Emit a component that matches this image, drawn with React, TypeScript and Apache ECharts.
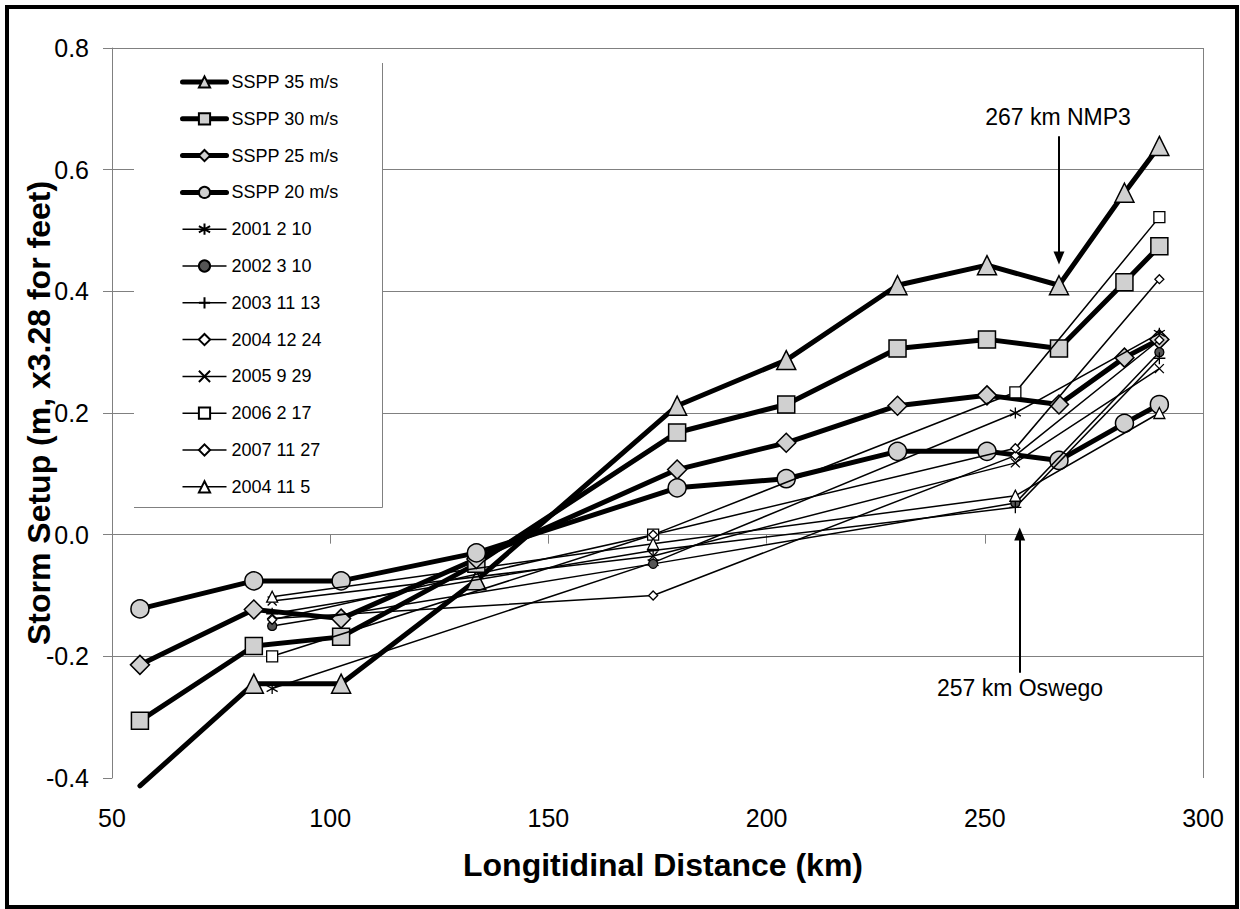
import React, { useEffect, useRef } from "react";
import * as echarts from "echarts";

const FONT = "'Liberation Sans', Arial, Helvetica, sans-serif";

// Distances (km) of SSPP model points and of observation stations
const ssppDistance = [56.4, 82.5, 102.5, 133.5, 179.5, 204.5, 230, 250.5, 267, 282, 290];
const obsDistance = [86.7, 174, 257, 290];

// SSPP model setups (m)
const sspp35 = [-0.413, -0.245, -0.245, -0.075, 0.212, 0.287, 0.41, 0.443, 0.41, 0.562, 0.639];
const sspp30 = [-0.306, -0.183, -0.168, -0.048, 0.168, 0.214, 0.306, 0.321, 0.306, 0.415, 0.474];
const sspp25 = [-0.214, -0.123, -0.138, -0.04, 0.107, 0.151, 0.212, 0.229, 0.214, 0.291, 0.321];
const sspp20 = [-0.122, -0.076, -0.076, -0.03, 0.077, 0.092, 0.137, 0.137, 0.122, 0.183, 0.214];

// Observed storm setups (m)
const obs2001_2_10 = [-0.253, -0.046, 0.2, 0.331];
const obs2002_3_10 = [-0.15, -0.048, 0.052, 0.3];
const obs2003_11_13 = [-0.13, -0.026, 0.045, 0.29];
const obs2004_12_24 = [-0.138, -0.1, 0.13, 0.32];
const obs2005_9_29 = [-0.109, -0.035, 0.118, 0.273];
const obs2006_2_17 = [-0.2, 0.0, 0.234, 0.522];
const obs2007_11_27 = [-0.14, 0.0, 0.142, 0.42];
const obs2004_11_5 = [-0.102, -0.015, 0.064, 0.2];

const seriesNames = [
  "SSPP 35 m/s",
  "SSPP 30 m/s",
  "SSPP 25 m/s",
  "SSPP 20 m/s",
  "2001 2 10",
  "2002 3 10",
  "2003 11 13",
  "2004 12 24",
  "2005 9 29",
  "2006 2 17",
  "2007 11 27",
  "2004 11 5",
];

// Annotations
const nmp3Arrow = { x: 267, yFrom: 0.655, yTo: 0.455 };
const oswegoArrow = { x: 258, yFrom: -0.227, yTo: 0.001 };

const ASTERISK = "path://M5,0L5,10M0,2.2L10,7.8M0,7.8L10,2.2";
const PLUS = "path://M5,0L5,10M0,5L10,5";
const CROSS = "path://M0,0L10,10M0,10L10,0";

const STIPPLE = "#d0d0d0";

function thickSeries(name: string, ys: number[], symbol: string, size: number, hideFirst = false) {
  return {
    name,
    type: "line",
    clip: false,
    data: ssppDistance.map((x, i) =>
      hideFirst && i === 0 ? { value: [x, ys[i]], symbol: "none" } : [x, ys[i]]
    ),
    symbol,
    symbolSize: size,
    showAllSymbol: true,
    lineStyle: { color: "#000", width: 5, cap: "round", join: "round" },
    itemStyle: { color: STIPPLE, borderColor: "#000", borderWidth: 1.5 },
    emphasis: { disabled: true },
    z: 2,
  };
}

function thinSeries(name: string, ys: number[], symbol: string, size: number, fill = "#fff") {
  return {
    name,
    type: "line",
    clip: false,
    data: obsDistance.map((x, i) => [x, ys[i]]),
    symbol,
    symbolSize: size,
    showAllSymbol: true,
    lineStyle: { color: "#000", width: 1.5 },
    itemStyle: { color: fill, borderColor: "#000", borderWidth: 1.3 },
    emphasis: { disabled: true },
    z: 3,
  };
}

export default function App() {
  const ref = useRef<HTMLDivElement>(null);

  useEffect(() => {
    if (!ref.current) return;
    const chart = echarts.init(ref.current, null, { renderer: "svg" });

    const gray = "#808080";
    const legendData = seriesNames.map((name, i) =>
      i < 4
        ? { name, lineStyle: { width: 5, color: "#000" } }
        : { name, lineStyle: { width: 1.5, color: "#000" } }
    );
    const option: any = {
      animation: false,
      backgroundColor: "#fff",
      grid: { left: 112, right: 37, top: 48, bottom: 131, containLabel: false },
      xAxis: {
        type: "value",
        min: 50,
        max: 300,
        interval: 50,
        axisLine: { show: false },
        axisTick: { show: true, length: 9, lineStyle: { color: gray, width: 1 } },
        axisLabel: { fontSize: 25, fontFamily: FONT, color: "#000", margin: 27 },
        splitLine: {
          show: true,
          lineStyle: {
            color: ["rgba(0,0,0,0)", "rgba(0,0,0,0)", "rgba(0,0,0,0)", "rgba(0,0,0,0)", "rgba(0,0,0,0)", gray],
            width: 1,
          },
        },
      },
      yAxis: {
        type: "value",
        min: -0.4,
        max: 0.8,
        interval: 0.2,
        axisLine: { show: true, lineStyle: { color: gray, width: 1 } },
        axisTick: { show: true, length: 9, lineStyle: { color: gray, width: 1 } },
        axisLabel: {
          fontSize: 25,
          fontFamily: FONT,
          color: "#000",
          margin: 23,
          formatter: (v: number) => (Math.round(v * 10) / 10).toFixed(1),
        },
        splitLine: {
          show: true,
          lineStyle: {
            color: ["rgba(0,0,0,0)", gray, gray, gray, gray, gray, gray],
            width: 1,
          },
        },
      },
      legend: {
        orient: "vertical",
        left: 180,
        top: 73,
        padding: 0,
        itemWidth: 44,
        itemHeight: 14,
        itemGap: 18.8,
        selectedMode: false,
        data: legendData,
        textStyle: { fontSize: 18, lineHeight: 18, fontFamily: FONT, color: "#000" },
        z: 6,
      },
      graphic: [
        {
          type: "rect",
          z: 3,
          shape: { x: 134, y: 63, width: 248, height: 444 },
          style: { fill: "#fff" },
        },
        {
          type: "line",
          z: 5,
          shape: { x1: 382.5, y1: 63, x2: 382.5, y2: 507.5 },
          style: { stroke: gray, lineWidth: 1 },
        },
        {
          type: "line",
          z: 5,
          shape: { x1: 134, y1: 507.5, x2: 382.5, y2: 507.5 },
          style: { stroke: gray, lineWidth: 1 },
        },
        {
          type: "text",
          z: 5,
          x: 39,
          y: 413,
          rotation: Math.PI / 2,
          style: {
            text: "Storm Setup (m, x3.28 for feet)",
            fontSize: 32,
            fontWeight: "bold",
            fontFamily: FONT,
            fill: "#000",
            align: "center",
            verticalAlign: "middle",
          },
        },
        {
          type: "text",
          z: 5,
          x: 663,
          y: 865,
          style: {
            text: "Longitidinal Distance (km)",
            fontSize: 32,
            fontWeight: "bold",
            fontFamily: FONT,
            fill: "#000",
            align: "center",
            verticalAlign: "middle",
          },
        },
        {
          type: "text",
          z: 5,
          x: 1058,
          y: 117,
          style: {
            text: "267 km NMP3",
            fontSize: 23,
            fontFamily: FONT,
            fill: "#000",
            align: "center",
            verticalAlign: "middle",
          },
        },
        {
          type: "text",
          z: 5,
          x: 1020,
          y: 688,
          style: {
            text: "257 km Oswego",
            fontSize: 23,
            fontFamily: FONT,
            fill: "#000",
            align: "center",
            verticalAlign: "middle",
          },
        },
        {
          type: "rect",
          z: 20,
          silent: true,
          shape: { x: 7, y: 7, width: 1230, height: 900 },
          style: { fill: "none", stroke: "#000", lineWidth: 4 },
        },
      ],
      series: [
        thickSeries(seriesNames[0], sspp35, "triangle", 19, true),
        thickSeries(seriesNames[1], sspp30, "rect", 17),
        thickSeries(seriesNames[2], sspp25, "diamond", 19),
        thickSeries(seriesNames[3], sspp20, "circle", 18),
        thinSeries(seriesNames[4], obs2001_2_10, ASTERISK, 11),
        thinSeries(seriesNames[5], obs2002_3_10, "circle", 9, "#555"),
        thinSeries(seriesNames[6], obs2003_11_13, PLUS, 12),
        thinSeries(seriesNames[7], obs2004_12_24, "diamond", 9),
        thinSeries(seriesNames[8], obs2005_9_29, CROSS, 9),
        thinSeries(seriesNames[9], obs2006_2_17, "rect", 11),
        thinSeries(seriesNames[10], obs2007_11_27, "diamond", 9),
        thinSeries(seriesNames[11], obs2004_11_5, "triangle", 11),
        {
          name: "annotations",
          type: "line",
          data: [],
          markLine: {
            silent: true,
            symbol: ["none", "triangle"],
            symbolSize: [11, 13],
            lineStyle: { color: "#000", width: 2, type: "solid" },
            itemStyle: { color: "#000" },
            label: { show: false },
            emphasis: { disabled: true },
            data: [
              [
                { coord: [nmp3Arrow.x, nmp3Arrow.yFrom] },
                { coord: [nmp3Arrow.x, nmp3Arrow.yTo] },
              ],
              [
                { coord: [oswegoArrow.x, oswegoArrow.yFrom] },
                { coord: [oswegoArrow.x, oswegoArrow.yTo] },
              ],
            ],
          },
        },
      ],
    };

    chart.setOption(option);
    return () => chart.dispose();
  }, []);

  return (
    <div
      ref={ref}
      style={{ position: "fixed", left: 0, top: 0, width: 1240, height: 909, background: "#fff" }}
    />
  );
}
